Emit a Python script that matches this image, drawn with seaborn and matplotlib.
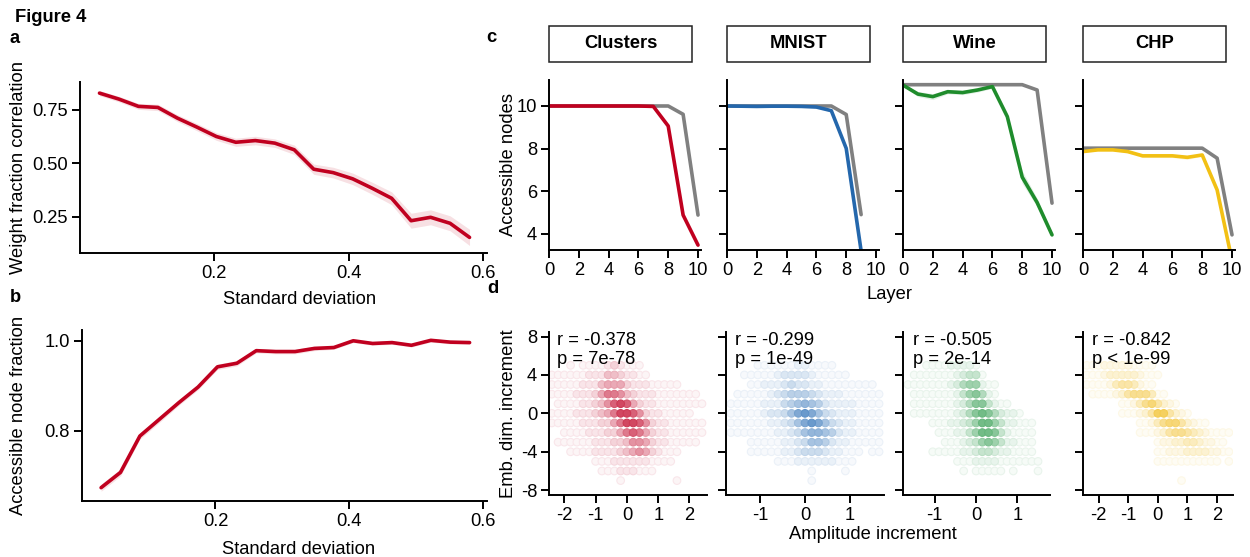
import numpy as np
import pandas as pd
import matplotlib
matplotlib.use("Agg")
import matplotlib.pyplot as plt
from matplotlib.colors import LinearSegmentedColormap, Normalize
from matplotlib.patches import Rectangle
import seaborn as sns

# ------------------------------------------------------------------ data
std_dev = [0.029, 0.058, 0.087, 0.116, 0.145, 0.174, 0.203, 0.232, 0.261, 0.290,
           0.319, 0.348, 0.377, 0.406, 0.435, 0.464, 0.493, 0.522, 0.551, 0.580]
weight_corr = [0.828, 0.800, 0.766, 0.761, 0.711, 0.669, 0.625, 0.598, 0.606, 0.594,
               0.563, 0.472, 0.456, 0.427, 0.383, 0.336, 0.231, 0.247, 0.219, 0.153]
weight_corr_ci = [0.012, 0.013, 0.014, 0.015, 0.016, 0.017, 0.018, 0.019, 0.020, 0.020,
                  0.022, 0.024, 0.025, 0.027, 0.028, 0.030, 0.035, 0.035, 0.035, 0.038]
node_frac = [0.673, 0.707, 0.788, 0.825, 0.862, 0.897, 0.942, 0.950, 0.978, 0.976,
             0.976, 0.983, 0.985, 1.000, 0.994, 0.996, 0.990, 1.001, 0.997, 0.996]
node_frac_ci = [0.008, 0.008, 0.007, 0.007, 0.006, 0.006, 0.006, 0.006, 0.005, 0.005,
                0.005, 0.005, 0.004, 0.004, 0.004, 0.004, 0.004, 0.004, 0.004, 0.004]

datasets = ["Clusters", "MNIST", "Wine", "CHP"]
layers = {
    "Clusters": [0, 1, 2, 3, 4, 5, 6, 7, 8, 9, 10],
    "MNIST": [0, 1, 2, 3, 4, 5, 6, 7, 8, 9],
    "Wine": [0, 1, 2, 3, 4, 5, 6, 7, 8, 9, 10],
    "CHP": [0, 1, 2, 3, 4, 5, 6, 7, 8, 9, 10],
}
accessible = {
    "Clusters": [10.0, 10.0, 10.0, 10.0, 10.0, 10.0, 10.0, 9.98, 9.06, 4.88, 3.47],
    "MNIST": [10.0, 9.99, 9.98, 9.99, 9.99, 9.98, 9.95, 9.78, 8.01, 3.2],
    "Wine": [10.98, 10.56, 10.44, 10.67, 10.63, 10.75, 10.91, 9.5, 6.66, 5.47, 3.95],
    "CHP": [7.86, 7.94, 7.94, 7.86, 7.66, 7.66, 7.66, 7.59, 7.70, 6.06, 2.75],
}
accessible_ci = {
    "Clusters": [0.02, 0.02, 0.02, 0.02, 0.02, 0.02, 0.02, 0.03, 0.08, 0.1, 0.08],
    "MNIST": [0.02, 0.02, 0.02, 0.02, 0.02, 0.02, 0.03, 0.05, 0.08, 0.1],
    "Wine": [0.05, 0.12, 0.14, 0.1, 0.1, 0.1, 0.08, 0.15, 0.3, 0.2, 0.1],
    "CHP": [0.04, 0.04, 0.04, 0.06, 0.08, 0.08, 0.08, 0.1, 0.05, 0.15, 0.1],
}
control = {
    "Clusters": [10.0, 10.0, 10.0, 10.0, 10.0, 10.0, 10.0, 10.0, 10.0, 9.61, 4.88],
    "MNIST": [10.0, 10.0, 10.0, 10.0, 10.0, 10.0, 10.0, 10.0, 9.6, 4.9],
    "Wine": [11.0, 11.0, 11.0, 11.0, 11.0, 11.0, 11.0, 11.0, 11.0, 10.75, 5.44],
    "CHP": [8.02, 8.02, 8.02, 8.02, 8.02, 8.02, 8.02, 8.02, 8.02, 7.55, 3.95],
}

corr_text = {
    "Clusters": "r = -0.378\np = 7e-78",
    "MNIST": "r = -0.299\np = 1e-49",
    "Wine": "r = -0.505\np = 2e-14",
    "CHP": "r = -0.842\np < 1e-99",
}

# scatter (panel d): rows of embedding-dimension increments, columns of amplitude
# increments, digit = point density (0-9)
scatter_rows = [5, 4, 3, 2, 1, 0, -1, -2, -3, -4, -5, -6, -7]
grid_wide = [-2.4, -2.2, -2.0, -1.8, -1.6, -1.4, -1.2, -1.0, -0.8, -0.6, -0.4, -0.2, 0.0,
             0.2, 0.4, 0.6, 0.8, 1.0, 1.2, 1.4, 1.6, 1.8, 2.0, 2.2, 2.4]
grid_narrow = [-1.65, -1.5, -1.35, -1.2, -1.05, -0.9, -0.75, -0.6, -0.45, -0.3, -0.15, 0.0,
               0.15, 0.3, 0.45, 0.6, 0.75, 0.9, 1.05, 1.2, 1.35, 1.5, 1.65]
density_clusters = [
    "0001011112321110000000000",
    "1111112224432211000000000",
    "1111122245553222111110000",
    "1111222357764322211111110",
    "0111122346898532211111111",
    "1111222345799863221111100",
    "1111122233579986322111111",
    "0011112223357875322111111",
    "0111111222334665322111110",
    "0001111222234565321110000",
    "0000000111222222111100000",
    "0000000011122211100000000",
    "0000000000010000000010000",
]
density_mnist = [
    "00001111112211110000000",
    "00111112333321111100000",
    "00011222343322111111110",
    "01111123455543222111111",
    "11111222456765322221111",
    "11111233468986432221111",
    "11111122346898643221111",
    "11111112234677653221111",
    "00011111223466532211111",
    "00011111223444322111011",
    "00000001112222221110000",
    "00000000000010000100000",
    "00000000000010000000000",
]
density_wine = [
    "00011112222100000000000",
    "01111111234410000000000",
    "11111112356621100000000",
    "01111111246752100000000",
    "01111111235774211000000",
    "01111111235787532210000",
    "00001112234688642211100",
    "00000111224688742111100",
    "00000011123467642211100",
    "00001111122344322111100",
    "00000000111222211111110",
    "00000000010111110100010",
    "00000000000000000000000",
]
density_chp = [
    "1112222211110000000000000",
    "1112333332111000000000000",
    "1111245542110000000000000",
    "0111123566641100000000000",
    "0000001124675321000000000",
    "0000001112358853210000000",
    "0000000001124677532110000",
    "0000000001112356654321111",
    "0000000000001223344322110",
    "0000000000001122233332211",
    "0000000000001111111111101",
    "0000000000000000000000000",
    "0000000000000000100000000",
]
scatter_grid = {"Clusters": grid_wide, "MNIST": grid_narrow, "Wine": grid_narrow, "CHP": grid_wide}
scatter_density = {"Clusters": density_clusters, "MNIST": density_mnist,
                   "Wine": density_wine, "CHP": density_chp}

# ------------------------------------------------------------------ style
RED, BLUE, GREEN, YELLOW, GRAY = "#c0001f", "#2467ac", "#1f8c2c", "#f2c014", "#808080"
line_colors = {"Clusters": RED, "MNIST": BLUE, "Wine": GREEN, "CHP": YELLOW}
dot_colors = {"Clusters": "#cc3350", "MNIST": "#5a8fc6", "Wine": "#4aa864", "CHP": "#f2c230"}

sns.set_style("ticks")
plt.rcParams["font.family"] = ["Liberation Sans", "DejaVu Sans"]
plt.rcParams["axes.unicode_minus"] = False
plt.rcParams["text.color"] = "black"
plt.rcParams["axes.labelcolor"] = "black"
plt.rcParams["xtick.color"] = "black"
plt.rcParams["ytick.color"] = "black"
FS = 13.2

W, H = 1250, 557
fig = plt.figure(figsize=(W / 100, H / 100), dpi=100)


def add_ax(left, top, width, height):
    return fig.add_axes([left / W, 1 - (top + height) / H, width / W, height / H])


def style(ax):
    sns.despine(ax=ax)
    for s in ("left", "bottom"):
        ax.spines[s].set_linewidth(1.4)
        ax.spines[s].set_color("black")
    ax.tick_params(axis="both", length=6, width=1.4, labelsize=FS, pad=2.5,
                   color="black", labelcolor="black", direction="out")


# ------------------------------------------------------------------ panel a
ax_a = add_ax(80, 82, 407, 171)
lo = [v - c for v, c in zip(weight_corr, weight_corr_ci)]
hi = [v + c for v, c in zip(weight_corr, weight_corr_ci)]
ax_a.fill_between(std_dev, lo, hi, color=RED, alpha=0.12, lw=0)
sns.lineplot(x=std_dev, y=weight_corr, color=RED, lw=2.6, ax=ax_a)
ax_a.set_xlim(0.0, 0.606)
ax_a.set_ylim(0.08, 0.88)
ax_a.set_xticks([0.2, 0.4, 0.6])
ax_a.set_xticklabels(["0.2", "0.4", "0.6"])
ax_a.set_yticks([0.25, 0.5, 0.75])
ax_a.set_yticklabels(["0.25", "0.50", "0.75"])
style(ax_a)
ax_a.set_xlabel("Standard deviation", fontsize=FS)
ax_a.set_ylabel("Weight fraction correlation", fontsize=FS)
ax_a.xaxis.set_label_coords(0.54, -0.225)
ax_a.xaxis.label.set_va("top")
ax_a.yaxis.set_label_coords(-0.130, 0.5)

# ------------------------------------------------------------------ panel b
ax_b = add_ax(81.7, 330, 405.3, 170.7)
lo = [v - c for v, c in zip(node_frac, node_frac_ci)]
hi = [v + c for v, c in zip(node_frac, node_frac_ci)]
ax_b.fill_between(std_dev, lo, hi, color=RED, alpha=0.12, lw=0)
sns.lineplot(x=std_dev, y=node_frac, color=RED, lw=2.6, ax=ax_b)
ax_b.set_xlim(0.0, 0.606)
ax_b.set_ylim(0.644, 1.024)
ax_b.set_xticks([0.2, 0.4, 0.6])
ax_b.set_xticklabels(["0.2", "0.4", "0.6"])
ax_b.set_yticks([0.8, 1.0])
ax_b.set_yticklabels(["0.8", "1.0"])
style(ax_b)
ax_b.set_xlabel("Standard deviation", fontsize=FS)
ax_b.set_ylabel("Accessible node fraction", fontsize=FS)
ax_b.xaxis.set_label_coords(0.536, -0.235)
ax_b.xaxis.label.set_va("top")
ax_b.yaxis.set_label_coords(-0.135, 0.5)

# ------------------------------------------------------------------ panel c
c_lefts = [549, 727, 903, 1083]
for i, name in enumerate(datasets):
    ax = add_ax(c_lefts[i], 80, 152, 170)
    x = layers[name]
    sns.lineplot(x=x, y=control[name], color=GRAY, lw=2.6, ax=ax)
    lo = [v - c for v, c in zip(accessible[name], accessible_ci[name])]
    hi = [v + c for v, c in zip(accessible[name], accessible_ci[name])]
    ax.fill_between(x, lo, hi, color=line_colors[name], alpha=0.12, lw=0)
    sns.lineplot(x=x, y=accessible[name], color=line_colors[name], lw=2.6, ax=ax)
    ax.set_xlim(0, 10.2)
    ax.set_ylim(3.24, 11.22)
    ax.set_xticks([0, 2, 4, 6, 8, 10])
    ax.set_yticks([4, 6, 8, 10])
    style(ax)
    if i == 0:
        ax.set_ylabel("Accessible nodes", fontsize=FS)
        ax.yaxis.set_label_coords(-0.21, 0.5)
    else:
        ax.set_yticklabels([])
        ax.set_ylabel("")
    ax.add_patch(Rectangle((0, 1.108), 0.94, 0.21, transform=ax.transAxes, fill=False,
                           ec="#222222", lw=1.1, clip_on=False))
    ax.text(0.47, 1.213, name, transform=ax.transAxes, ha="center", va="center",
            fontsize=FS, fontweight="bold")

fig.text(890 / W, 1 - 286 / H, "Layer", ha="center", va="top", fontsize=FS)

# ------------------------------------------------------------------ panel d
d_lefts = [549, 726, 903, 1083]
d_widths = [158, 158, 147, 150]
d_xlims = {"Clusters": (-2.49, 2.56), "MNIST": (-1.76, 1.76),
           "Wine": (-1.77, 1.79), "CHP": (-2.53, 2.54)}
d_xticks = {"Clusters": [-2, -1, 0, 1, 2], "MNIST": [-1, 0, 1],
            "Wine": [-1, 0, 1], "CHP": [-2, -1, 0, 1, 2]}
text_x = {"Clusters": 0.05, "MNIST": 0.06, "Wine": 0.066, "CHP": 0.058}
for i, name in enumerate(datasets):
    ax = add_ax(d_lefts[i], 331.7, d_widths[i], 163.3)
    recs = []
    grid = scatter_grid[name]
    for yv, row in zip(scatter_rows, scatter_density[name]):
        for xv, ch in zip(grid, row):
            w = int(ch)
            if w > 0:
                recs.append((xv, yv, w))
    df = pd.DataFrame(recs, columns=["amp", "emb", "w"]).sort_values("w", kind="stable")
    cmap = LinearSegmentedColormap.from_list(name, ["#ffffff", dot_colors[name]])
    norm = Normalize(0, 9)
    sns.scatterplot(data=df, x="amp", y="emb", hue="w", palette=cmap, hue_norm=norm,
                    s=30, linewidth=0.8, edgecolor="none", legend=False, ax=ax)
    coll = ax.collections[-1]
    frac = (df["w"].to_numpy() / 9.0) ** 1.3 * 0.9
    coll.set_facecolor(cmap(frac))
    coll.set_edgecolor(cmap(np.minimum(frac + 0.07, 1.0)))
    ax.set_xlim(*d_xlims[name])
    ax.set_ylim(-8.5, 8.5)
    ax.set_xticks(d_xticks[name])
    ax.set_yticks([-8, -4, 0, 4, 8])
    style(ax)
    ax.set_xlabel("")
    if i == 0:
        ax.set_ylabel("Emb. dim. increment", fontsize=FS)
        ax.yaxis.set_label_coords(-0.204, 0.5)
    else:
        ax.set_yticklabels([])
        ax.set_ylabel("")
    ax.text(text_x[name], 1.0, corr_text[name], transform=ax.transAxes, ha="left",
            va="top", fontsize=FS, linespacing=1.17)

fig.text(873 / W, 1 - 526 / H, "Amplitude increment", ha="center", va="top", fontsize=FS)

# ------------------------------------------------------------------ labels
fig.text(15 / W, 1 - 21.7 / H, "Figure 4", fontsize=FS, fontweight="bold", va="baseline")
fig.text(9 / W, 1 - 43 / H, "a", fontsize=FS, fontweight="bold", va="baseline")
fig.text(10 / W, 1 - 301.7 / H, "b", fontsize=FS, fontweight="bold", va="baseline")
fig.text(486 / W, 1 - 41.7 / H, "c", fontsize=FS, fontweight="bold", va="baseline")
fig.text(487 / W, 1 - 293.3 / H, "d", fontsize=FS, fontweight="bold", va="baseline")

fig.savefig("out.png", dpi=100, facecolor="white")
